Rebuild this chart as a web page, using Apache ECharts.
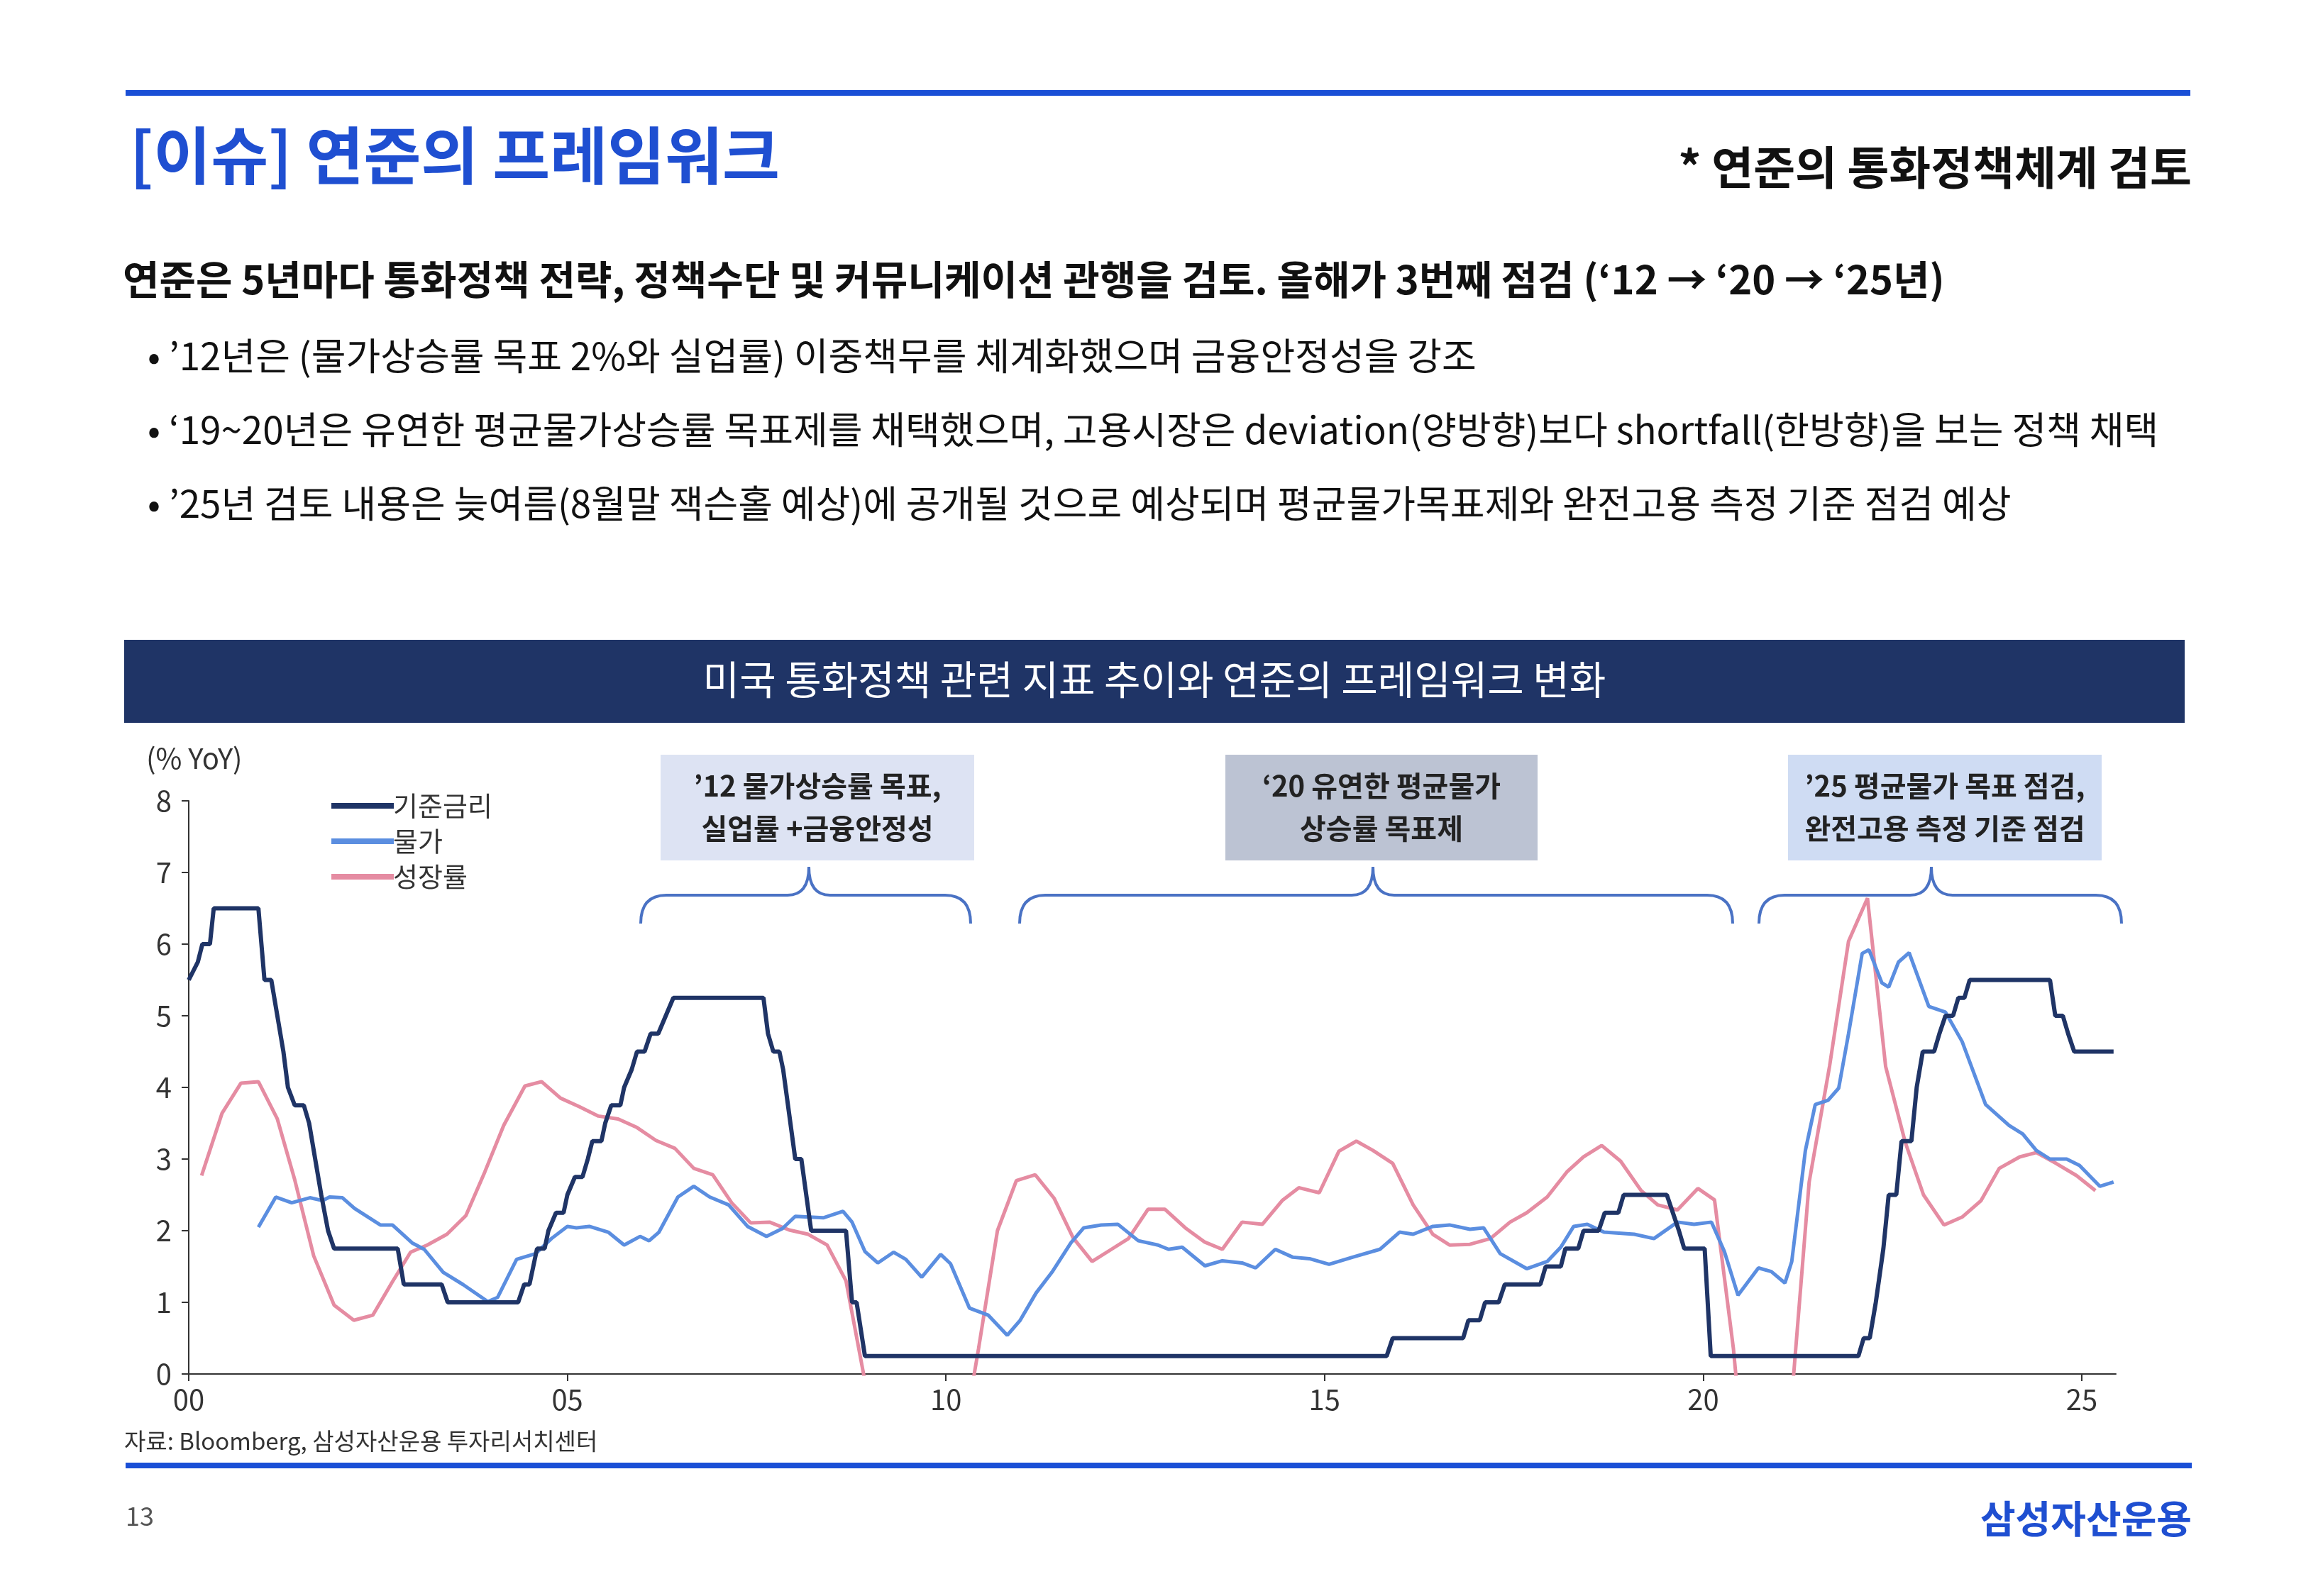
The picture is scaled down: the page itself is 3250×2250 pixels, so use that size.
<!DOCTYPE html>
<html>
<head>
<meta charset="utf-8">
<script src="https://cdn.jsdelivr.net/npm/echarts@6/dist/echarts.min.js"></script>
<style>html,body{margin:0;padding:0;background:#fff}#chart{width:3250px;height:2250px}</style>
</head>
<body>
<div id="chart"></div>
<script>
// 기준금리 [연도(2000=0), %]
var fedRate = [[0,5.5],[0.12,5.75],[0.18,6.0],[0.28,6.0],[0.33,6.5],[0.92,6.5],[1.0,5.5],[1.09,5.5],[1.17,5.0],[1.25,4.5],[1.31,4.0],[1.4,3.75],[1.52,3.75],[1.59,3.5],[1.67,3.0],[1.75,2.5],[1.84,2.0],[1.92,1.75],[2.76,1.75],[2.84,1.25],[3.34,1.25],[3.42,1.0],[4.35,1.0],[4.43,1.25],[4.5,1.25],[4.55,1.5],[4.6,1.75],[4.7,1.75],[4.75,2.0],[4.85,2.25],[4.95,2.25],[5.0,2.5],[5.1,2.75],[5.2,2.75],[5.27,3.0],[5.33,3.25],[5.45,3.25],[5.5,3.5],[5.58,3.75],[5.7,3.75],[5.75,4.0],[5.85,4.25],[5.92,4.5],[6.02,4.5],[6.1,4.75],[6.2,4.75],[6.3,5.0],[6.4,5.25],[7.59,5.25],[7.65,4.75],[7.72,4.5],[7.8,4.5],[7.85,4.25],[8.01,3.0],[8.09,3.0],[8.22,2.0],[8.68,2.0],[8.76,1.0],[8.82,1.0],[8.93,0.25],[15.82,0.25],[15.9,0.5],[16.83,0.5],[16.9,0.75],[17.05,0.75],[17.12,1.0],[17.3,1.0],[17.38,1.25],[17.85,1.25],[17.92,1.5],[18.12,1.5],[18.18,1.75],[18.35,1.75],[18.42,2.0],[18.62,2.0],[18.7,2.25],[18.88,2.25],[18.95,2.5],[19.52,2.5],[19.6,2.25],[19.68,2.0],[19.75,1.75],[20.02,1.75],[20.1,0.25],[22.05,0.25],[22.12,0.5],[22.2,0.5],[22.28,1.0],[22.38,1.75],[22.45,2.5],[22.55,2.5],[22.62,3.25],[22.75,3.25],[22.82,4.0],[22.9,4.5],[23.05,4.5],[23.12,4.75],[23.2,5.0],[23.3,5.0],[23.37,5.25],[23.45,5.25],[23.52,5.5],[24.58,5.5],[24.65,5.0],[24.75,5.0],[24.82,4.75],[24.9,4.5],[25.42,4.5]];

// 물가
var inflation = [[0.92,2.05],[1.15,2.47],[1.36,2.39],[1.6,2.46],[1.77,2.42],[1.86,2.47],[2.03,2.46],[2.19,2.31],[2.53,2.08],[2.69,2.08],[2.95,1.83],[3.11,1.74],[3.36,1.42],[3.62,1.25],[3.95,1.01],[4.08,1.07],[4.33,1.6],[4.58,1.68],[4.79,1.89],[5.0,2.06],[5.12,2.04],[5.29,2.06],[5.54,1.98],[5.75,1.8],[5.96,1.92],[6.08,1.86],[6.21,1.98],[6.46,2.47],[6.67,2.62],[6.88,2.47],[7.13,2.36],[7.38,2.06],[7.63,1.92],[7.84,2.03],[8.01,2.2],[8.38,2.18],[8.64,2.27],[8.76,2.12],[8.93,1.71],[9.1,1.55],[9.31,1.7],[9.47,1.6],[9.68,1.35],[9.93,1.67],[10.06,1.54],[10.31,0.92],[10.56,0.82],[10.81,0.54],[10.98,0.75],[11.19,1.13],[11.4,1.42],[11.65,1.83],[11.82,2.04],[12.05,2.08],[12.27,2.09],[12.54,1.86],[12.8,1.8],[12.94,1.74],[13.12,1.77],[13.42,1.51],[13.65,1.58],[13.91,1.55],[14.09,1.48],[14.35,1.74],[14.58,1.63],[14.8,1.61],[15.06,1.53],[15.37,1.63],[15.73,1.74],[15.99,1.98],[16.17,1.95],[16.43,2.06],[16.65,2.08],[16.92,2.02],[17.1,2.04],[17.32,1.68],[17.67,1.47],[17.94,1.57],[18.12,1.77],[18.29,2.06],[18.47,2.09],[18.69,1.98],[19.09,1.95],[19.35,1.89],[19.66,2.12],[19.88,2.09],[20.11,2.12],[20.28,1.71],[20.46,1.1],[20.73,1.48],[20.9,1.43],[21.08,1.27],[21.17,1.57],[21.35,3.12],[21.48,3.76],[21.65,3.82],[21.79,3.99],[21.92,4.75],[22.1,5.87],[22.19,5.92],[22.36,5.46],[22.45,5.4],[22.58,5.75],[22.72,5.88],[22.98,5.13],[23.2,5.05],[23.42,4.64],[23.73,3.76],[24.04,3.47],[24.22,3.35],[24.4,3.12],[24.58,3.0],[24.8,3.0],[24.97,2.91],[25.24,2.62],[25.42,2.68]];

// 성장률
var growth = [[0.17,2.77],[0.44,3.64],[0.69,4.06],[0.92,4.08],[1.17,3.56],[1.4,2.71],[1.65,1.65],[1.92,0.96],[2.18,0.75],[2.43,0.82],[2.68,1.27],[2.93,1.7],[3.15,1.8],[3.41,1.95],[3.66,2.21],[3.91,2.82],[4.16,3.47],[4.44,4.02],[4.66,4.08],[4.91,3.85],[5.16,3.73],[5.41,3.6],[5.67,3.56],[5.92,3.44],[6.17,3.26],[6.42,3.15],[6.67,2.87],[6.92,2.78],[7.17,2.39],[7.42,2.11],[7.67,2.12],[7.93,2.01],[8.18,1.95],[8.43,1.8],[8.68,1.3],[8.93,-0.1],[9.18,-2.5],[9.43,-3.9],[9.68,-3.0],[9.93,-2.2],[10.18,-1.2],[10.43,0.35],[10.68,2.0],[10.93,2.7],[11.18,2.78],[11.43,2.45],[11.68,1.9],[11.93,1.57],[12.2,1.75],[12.41,1.89],[12.67,2.3],[12.89,2.3],[13.16,2.04],[13.42,1.84],[13.65,1.74],[13.91,2.12],[14.18,2.09],[14.44,2.42],[14.66,2.6],[14.93,2.53],[15.19,3.11],[15.42,3.25],[15.64,3.12],[15.9,2.94],[16.17,2.36],[16.43,1.95],[16.65,1.8],[16.92,1.81],[17.19,1.89],[17.45,2.12],[17.67,2.25],[17.94,2.47],[18.2,2.82],[18.42,3.03],[18.66,3.19],[18.91,2.97],[19.18,2.56],[19.4,2.36],[19.66,2.29],[19.93,2.59],[20.15,2.43],[20.4,0.35],[20.65,-2.5],[20.9,-2.0],[21.15,-0.6],[21.4,2.68],[21.67,4.3],[21.92,6.04],[22.17,6.64],[22.41,4.29],[22.67,3.23],[22.91,2.5],[23.18,2.08],[23.42,2.19],[23.67,2.42],[23.91,2.87],[24.18,3.03],[24.4,3.09],[24.66,2.94],[24.93,2.77],[25.18,2.56]];

var seriesNames = ['기준금리', '물가', '성장률'];
var seriesColors = ['#1f3466', '#5b8ee0', '#e58ca2'];
var xTicks = ['00', '05', '10', '15', '20', '25'];
var boxTexts = ['’12 물가상승률 목표,\n실업률 +금융안정성', '‘20 유연한 평균물가\n상승률 목표제', '’25 평균물가 목표 점검,\n완전고용 측정 기준 점검'];

var F = '"Noto Sans CJK KR", "Noto Sans", sans-serif';
var chart = echarts.init(document.getElementById('chart'));

// 중괄호 모양 (곡선 + 직선)
function brace(x1, x2, xm) {
  var yt = 1262, yb = 1302, r = 36, ytip = 1222;
  var st = {stroke: '#4a72c4', lineWidth: 4, fill: null};
  return {
    type: 'group', silent: true, children: [
      {type: 'bezierCurve', shape: {x1: x1, y1: yb, cpx1: x1, cpy1: yt, x2: x1 + r, y2: yt}, style: st},
      {type: 'line', shape: {x1: x1 + r, y1: yt, x2: xm - 30, y2: yt}, style: st},
      {type: 'bezierCurve', shape: {x1: xm - 30, y1: yt, cpx1: xm, cpy1: yt, x2: xm, y2: ytip}, style: st},
      {type: 'bezierCurve', shape: {x1: xm, y1: ytip, cpx1: xm, cpy1: yt, x2: xm + 30, y2: yt}, style: st},
      {type: 'line', shape: {x1: xm + 30, y1: yt, x2: x2 - r, y2: yt}, style: st},
      {type: 'bezierCurve', shape: {x1: x2 - r, y1: yt, cpx1: x2, cpy1: yt, x2: x2, y2: yb}, style: st}
    ]
  };
}

function box(x, w, fill, text) {
  return {
    type: 'group', children: [
      {type: 'rect', shape: {x: x, y: 1064, width: w, height: 149}, style: {fill: fill}},
      {type: 'text', x: x + w / 2, y: 1138, style: {text: text, font: 'bold 40px ' + F, fill: '#222',
        textAlign: 'center', textVerticalAlign: 'middle', lineHeight: 60}}
    ]
  };
}

var option = {
  backgroundColor: '#fff',
  animation: false,
  grid: {left: 266, right: 268, top: 1129, bottom: 313},
  legend: {
    left: 462, top: 1112, orient: 'vertical', itemGap: 12, itemWidth: 88, itemHeight: 8,
    icon: 'rect', textStyle: {fontSize: 38, fontFamily: F, color: '#333', padding: [0, 0, 0, -6]},
    data: seriesNames
  },
  xAxis: {
    type: 'value', min: 0, max: 25.45, interval: 5,
    axisLine: {lineStyle: {color: '#333', width: 2}},
    axisTick: {show: true, length: 10, lineStyle: {color: '#333', width: 2}},
    axisLabel: {fontSize: 40, fontFamily: F, color: '#333', margin: 16, showMaxLabel: false,
      formatter: function (v) { return xTicks[Math.round(v / 5)]; }},
    splitLine: {show: false}
  },
  yAxis: {
    type: 'value', min: 0, max: 8, interval: 1,
    name: '(% YoY)', nameLocation: 'end', nameGap: 40,
    nameTextStyle: {fontSize: 40, fontFamily: F, color: '#333', align: 'left', padding: [0, 0, 0, -60]},
    axisLine: {show: true, lineStyle: {color: '#333', width: 2}},
    axisTick: {show: true, length: 10, lineStyle: {color: '#333', width: 2}},
    axisLabel: {fontSize: 40, fontFamily: F, color: '#333', margin: 24},
    splitLine: {show: false}
  },
  series: [
    {name: seriesNames[0], type: 'line', data: fedRate, symbol: 'none', clip: true, z: 3,
      lineStyle: {color: seriesColors[0], width: 6}, itemStyle: {color: seriesColors[0]}},
    {name: seriesNames[1], type: 'line', data: inflation, symbol: 'none', clip: true, z: 2,
      lineStyle: {color: seriesColors[1], width: 5}, itemStyle: {color: seriesColors[1]}},
    {name: seriesNames[2], type: 'line', data: growth, symbol: 'none', clip: true, z: 1,
      lineStyle: {color: seriesColors[2], width: 5}, itemStyle: {color: seriesColors[2]}}
  ],
  graphic: [
    {type: 'rect', shape: {x: 177, y: 127, width: 2910, height: 8}, style: {fill: '#1a4fd6'}},
    {type: 'text', x: 183, y: 219, style: {text: '[이슈] 연준의 프레임워크', font: 'bold 88px ' + F, fill: '#1f4fd1', textVerticalAlign: 'middle'}},
    {type: 'text', x: 3089, y: 236, style: {text: '* 연준의 통화정책체계 검토', font: 'bold 64px ' + F, fill: '#111', textAlign: 'right', textVerticalAlign: 'middle'}},
    {type: 'text', x: 173, y: 394, style: {text: '연준은 5년마다 통화정책 전략, 정책수단 및 커뮤니케이션 관행을 검토. 올해가 3번째 점검 (‘12 → ‘20 → ‘25년)', font: 'bold 56px ' + F, fill: '#111', textVerticalAlign: 'middle'}},
    {type: 'text', x: 208, y: 502, style: {text: '• ’12년은 (물가상승률 목표 2%와 실업률) 이중책무를 체계화했으며 금융안정성을 강조', font: '53px ' + F, fill: '#111', textVerticalAlign: 'middle'}},
    {type: 'text', x: 208, y: 606, style: {text: '• ‘19~20년은 유연한 평균물가상승률 목표제를 채택했으며, 고용시장은 deviation(양방향)보다 shortfall(한방향)을 보는 정책 채택', font: '53px ' + F, fill: '#111', textVerticalAlign: 'middle'}},
    {type: 'text', x: 208, y: 710, style: {text: '• ’25년 검토 내용은 늦여름(8월말 잭슨홀 예상)에 공개될 것으로 예상되며 평균물가목표제와 완전고용 측정 기준 점검 예상', font: '53px ' + F, fill: '#111', textVerticalAlign: 'middle'}},
    {type: 'rect', shape: {x: 175, y: 902, width: 2904, height: 117}, style: {fill: '#1f3466'}},
    {type: 'text', x: 1627, y: 958, style: {text: '미국 통화정책 관련 지표 추이와 연준의 프레임워크 변화', font: '56px ' + F, fill: '#fff', textAlign: 'center', textVerticalAlign: 'middle'}},
    box(931, 442, '#dde3f3', boxTexts[0]),
    box(1727, 440, '#bcc3d3', boxTexts[1]),
    box(2520, 442, '#cfdcf3', boxTexts[2]),
    brace(903, 1368, 1140),
    brace(1437, 2442, 1935),
    brace(2479, 2990, 2722),
    {type: 'text', x: 175, y: 2031, style: {text: '자료: Bloomberg, 삼성자산운용 투자리서치센터', font: '33px ' + F, fill: '#333', textVerticalAlign: 'middle'}},
    {type: 'rect', shape: {x: 177, y: 2062, width: 2912, height: 8}, style: {fill: '#1a4fd6'}},
    {type: 'text', x: 177, y: 2137, style: {text: '13', font: '36px ' + F, fill: '#555', textVerticalAlign: 'middle'}},
    {type: 'text', x: 3089, y: 2141, style: {text: '삼성자산운용', font: 'bold 54px ' + F, fill: '#1f4fd1', textAlign: 'right', textVerticalAlign: 'middle'}}
  ]
};
chart.setOption(option);
</script>
</body>
</html>
